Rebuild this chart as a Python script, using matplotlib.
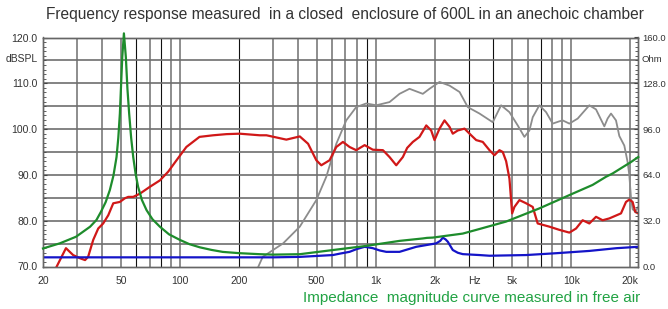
import matplotlib
matplotlib.use("Agg")
import matplotlib.pyplot as plt
import matplotlib.ticker as mticker
import numpy as np

plt.rcParams['font.family'] = ['Liberation Sans', 'DejaVu Sans']

# SPL response (red), dB
spl_freq = [23.5, 26.2, 28.5, 30.9, 32.8, 34.0, 36.1, 38.3, 40.6, 43.1, 45.7, 49.4, 52.4,
            54.5, 57.8, 62.5, 70.3, 79.1, 87.2, 96.2, 108, 126, 148, 173, 202, 256, 277,
            350, 410, 452, 498, 528, 582, 630, 681, 736, 796, 879, 968, 1090, 1178, 1275,
            1378, 1450, 1550, 1676, 1815, 1923, 2000, 2121, 2249, 2385, 2479, 2629, 2845,
            3078, 3265, 3527, 3817, 4047, 4292, 4462, 4643, 4827, 4983, 5118, 5429, 5874,
            6349, 6730, 7722, 8687, 9771, 10571, 11420, 12355, 13366, 14448, 15630, 17932,
            19017, 19770, 20547, 21210, 21970]
spl_db = [70.0, 74.0, 72.5, 71.8, 71.4, 72.1, 75.8, 78.3, 79.4, 81.2, 83.8, 84.1, 84.9,
          85.2, 85.2, 85.9, 87.4, 88.8, 90.7, 93.2, 96.1, 98.3, 98.65, 98.9, 99.0, 98.65, 98.65,
          97.7, 98.4, 96.8, 93.2, 92.1, 93.2, 96.1, 97.2, 96.1, 95.4, 96.5, 95.5, 95.4, 93.9, 92.1,
          93.9, 95.9, 97.2, 98.3, 100.8, 99.7, 97.6, 100.1, 101.9, 100.5, 99.0, 99.7, 100.1,
          98.65, 97.6, 97.2, 95.4, 94.3, 95.4, 95.0, 93.0, 89.2, 81.6, 83.0, 84.5, 83.8,
          83.0, 79.4, 78.7, 78.0, 77.4, 78.3, 80.1, 79.4, 80.85, 80.1, 80.5, 81.6,
          84.1, 84.6, 84.1, 81.9, 81.6]

# second SPL response (grey), dB
hf_freq = [252, 265, 337, 410, 498, 560, 630, 708, 796, 896, 1008, 1178, 1325, 1490, 1743,
           1885, 2121, 2385, 2685, 2958, 3393, 3967, 4376, 4827, 5322, 5756, 6106, 6349, 6865,
           7430, 8028, 8687, 9030, 9771, 10773, 12355, 13366, 14738, 15315, 15942, 16906,
           17578, 18643, 19380, 19770, 20165, 20547, 21210, 21970]
hf_db = [70.0, 72.1, 75.05, 78.7, 84.5, 89.6, 96.8, 101.9, 104.8, 105.6, 105.2, 105.9, 107.7,
         108.8, 107.7, 108.8, 110.3, 109.5, 108.1, 104.8, 103.4, 101.5, 105.2, 103.7, 100.8,
         98.3, 99.7, 102.6, 105.2, 103.7, 101.2, 101.7, 101.9, 101.2, 102.3, 105.2, 104.3,
         100.6, 102.3, 103.4, 101.9, 98.5, 96.4, 92.8, 90.0, 85.0, 82.5, 82.0, 83.0]

# blue curve, dB
blue_freq = [20, 300, 410, 498, 605, 655, 736, 800, 879, 968, 1050, 1134, 1325, 1613, 1885,
             2040, 2140, 2205, 2280, 2339, 2479, 2630, 2788, 3393, 3817, 5874, 8356, 12355,
             17000, 21970]
blue_db = [72.0, 72.0, 72.1, 72.3, 72.5, 72.8, 73.2, 73.8, 74.3, 74.0, 73.5, 73.2, 73.2, 74.3,
           74.8, 75.05, 75.6, 76.3, 75.9, 75.4, 73.6, 73.0, 72.7, 72.5, 72.35, 72.5, 72.9,
           73.4, 74.0, 74.3]

# impedance magnitude in free air (green), Ohm
imp_freq = [20, 24.4, 29.5, 34.8, 37.5, 39.5, 41.8, 43.9, 45.8, 47.5, 48.5, 49.4, 50.8, 51.8,
            53.0, 54.0, 55.1, 56.4, 57.8, 59.4, 61.2, 64.0, 67.6, 72.5, 79.1, 88, 100, 112,
            126.5, 145, 165.7, 202, 256, 300, 410, 605, 896, 1325, 1743, 1830,
            1959, 2788, 3393, 4643, 6865, 10155, 12840, 15035, 16245, 20165, 21970]
imp_ohm = [12.6, 16.2, 20.8, 27.8, 32.5, 38.1, 45.0, 53.4, 63.5, 76.5, 90.0, 106.9, 146.2,
           162.9, 146.2, 124.0, 106.9, 90.0, 76.5, 65.0, 55.7, 46.5, 39.4, 33.0, 27.8, 22.5,
           18.6, 15.6, 13.4, 11.6, 10.2, 9.3, 8.6, 8.3, 8.6, 11.5, 14.4, 17.9, 19.6, 20.0,
           20.2, 23.0, 26.2, 31.4, 40.6, 50.9, 57.0, 62.7, 65.0, 73.0, 76.5]

x_ticks = [20, 50, 100, 200, 500, 1000, 2000, 3200, 5000, 10000, 20000]
x_labels = ['20', '50', '100', '200', '500', '1k', '2k', 'Hz', '5k', '10k', '20k']
db_ticks = [70, 80, 90, 100, 110, 120]
ohm_ticks = [0, 32, 64, 96, 128, 160]

grid_freqs = [f * m for m in (10, 100, 1000) for f in range(2, 10)] + \
             [f * 10000 for f in (1, 2)] + [100, 1000]
dark_lines = [60, 80, 200, 900, 3000, 4000, 7000]

fig = plt.figure(figsize=(6.68, 3.09), dpi=100)
ax = fig.add_axes([43 / 668, 1 - 266.5 / 309, 595 / 668, 229 / 309])
ax.set_xscale('log')
ax.set_xlim(20, 21900)
ax.set_ylim(70, 120)

# grid
for f in sorted(set(grid_freqs)):
    if f in dark_lines:
        ax.axvline(f, color='#111111', lw=0.8, zorder=1)
    else:
        ax.axvline(f, color='#7a7a7a', lw=1.2, zorder=1)
for y in range(75, 120, 5):
    ax.axhline(y, color='#6e6e6e', lw=1.2, zorder=1)

ax.plot(hf_freq, hf_db, color='#8c8c8c', lw=1.3, zorder=3)
ax.plot(spl_freq, spl_db, color='#d01818', lw=1.6, zorder=4)
ax.plot(blue_freq, blue_db, color='#1414c8', lw=1.6, zorder=5)

ax.set_xticks(x_ticks)
ax.set_xticklabels(x_labels)
ax.xaxis.set_minor_locator(mticker.NullLocator())
ax.set_yticks(db_ticks)
ax.set_yticklabels(['%.1f' % v for v in db_ticks])
ax.yaxis.set_minor_locator(mticker.MultipleLocator(1))
ax.tick_params(axis='x', length=0, pad=7, labelsize=7.5, colors='#333333')
ax.tick_params(axis='y', which='major', direction='in', length=3, pad=4,
               labelsize=7.5, colors='#444444', labelcolor='#333333')
ax.tick_params(axis='y', which='minor', direction='in', length=2, colors='#444444')
for s in ax.spines.values():
    s.set_color('#666666')
    s.set_linewidth(1.0)

ax2 = ax.twinx()
ax2.set_ylim(0, 160)
ax2.plot(imp_freq, imp_ohm, color='#1e8c2c', lw=1.6, zorder=3, clip_on=False)
ax2.set_yticks(ohm_ticks)
ax2.set_yticklabels(['%.1f' % v for v in ohm_ticks])
ax2.yaxis.set_minor_locator(mticker.MultipleLocator(3.2))
ax2.tick_params(axis='y', which='major', direction='in', length=3, pad=3,
                labelsize=6.8, colors='#444444', labelcolor='#333333')
ax2.tick_params(axis='y', which='minor', direction='in', length=2, colors='#444444')
for s in ax2.spines.values():
    s.set_color('#666666')
    s.set_linewidth(1.0)

fig.text(38 / 668, 1 - 59 / 309, 'dBSPL', ha='right', va='center', fontsize=7.5, color='#333333')
fig.text(642 / 668, 1 - 59 / 309, 'Ohm', ha='left', va='center', fontsize=6.8, color='#333333')

fig.text(345 / 668, 1 - 14 / 309,
         'Frequency response measured  in a closed  enclosure of 600L in an anechoic chamber',
         ha='center', va='center', fontsize=11.2, color='#333333')
fig.text(640 / 668, 1 - 298 / 309, 'Impedance  magnitude curve measured in free air',
         ha='right', va='center', fontsize=11, color='#22a344')

fig.savefig('out.png', dpi=100)
